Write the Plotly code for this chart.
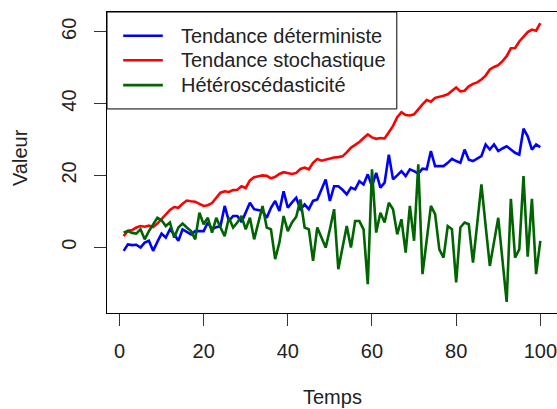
import plotly.graph_objects as go

temps = list(range(1, 101))

tendance_deterministe = [
    -1.0, 0.8, 0.6, 0.7, -0.1, 1.3, 1.8, -1.0, 1.5, 3.8,
    2.7, 5.0, 3.6, 1.8, 5.0, 4.2, 3.6, 4.5, 4.4, 4.5,
    6.9, 5.0, 5.6, 5.9, 11.5, 7.3, 8.7, 8.7, 7.0, 9.5,
    12.4, 10.6, 10.4, 10.1, 8.2, 11.0, 12.9, 10.1, 15.6, 11.0,
    12.5, 13.8, 10.6, 11.9, 10.6, 12.9, 13.3, 16.0, 18.9, 12.9,
    17.0, 17.0, 16.0, 14.7, 16.6, 16.1, 18.4, 17.5, 20.3, 17.0,
    20.7, 16.6, 18.0, 25.8, 18.9, 20.0, 21.2, 19.8, 21.7, 21.2,
    20.5, 21.9, 21.7, 26.8, 22.6, 22.6, 22.6, 23.5, 24.6, 24.0,
    23.5, 27.2, 24.4, 24.0, 24.6, 25.4, 28.6, 27.2, 28.6, 26.8,
    27.5, 28.1, 27.2, 26.3, 25.8, 33.0, 30.9, 27.2, 28.6, 27.9,
]

tendance_stochastique = [
    3.1, 4.6, 4.8, 5.5, 5.9, 5.7, 6.0, 5.6, 6.6, 7.8,
    9.0, 10.4, 11.2, 11.0, 12.1, 13.0, 12.8, 12.7, 12.1, 11.5,
    11.7, 12.3, 13.8, 15.2, 15.6, 15.4, 15.9, 16.0, 17.0, 16.5,
    18.6, 19.5, 19.8, 20.0, 19.9, 19.2, 19.6, 20.4, 20.9, 20.6,
    20.4, 20.7, 21.8, 22.2, 21.7, 23.5, 24.6, 24.1, 24.4, 24.9,
    25.0, 25.1, 25.3, 26.4, 27.7, 28.5, 29.3, 30.4, 31.4, 30.6,
    30.2, 30.4, 30.3, 32.0, 33.8, 36.2, 37.6, 36.8, 36.7, 37.0,
    38.5, 39.8, 41.0, 40.5, 41.6, 41.8, 42.2, 42.6, 43.5, 44.5,
    43.4, 43.6, 44.8, 45.5, 45.9, 46.7, 47.8, 49.5, 50.2, 50.7,
    51.8, 53.2, 55.4, 55.5, 57.3, 58.6, 59.9, 60.6, 60.3, 62.4,
]

heteroscedasticite = [
    4.1, 4.5, 4.0, 3.8, 5.0, 2.2, 4.5, 6.5, 8.2, 7.5,
    5.9, 6.9, 2.7, 5.5, 6.6, 5.5, 4.5, 2.2, 9.6, 6.4,
    8.2, 4.1, 8.2, 5.5, 3.1, 8.2, 5.5, 6.9, 8.7, 5.0,
    8.2, 2.2, 7.0, 11.5, 5.5, 5.0, -3.3, 1.3, 8.7, 4.5,
    6.9, 8.5, 13.3, 5.5, 5.0, -3.8, 5.5, 2.5, -0.1, 5.0,
    10.6, -6.1, 0.0, 5.9, -0.1, 7.3, 7.3, 5.0, -10.3, 21.7,
    4.1, 9.6, 6.9, 12.4, 10.6, 3.6, 7.8, -1.5, 11.5, 1.8,
    23.1, -7.5, 2.0, 11.5, 9.2, -0.6, -2.9, 5.9, 5.0, -9.8,
    5.5, 6.9, 6.4, -4.3, 6.5, 17.5, 6.0, -5.2, 1.5, 8.2,
    -3.5, -15.2, 13.5, -2.9, -0.6, 19.8, -2.6, 13.5, -7.5, 1.8,
]

series_names = ["Tendance déterministe", "Tendance stochastique", "Hétéroscédasticité"]
series_colors = ["#0000FF", "#FF0000", "#006400"]
x_ticks = [0, 20, 40, 60, 80, 100]
y_ticks = [0, 20, 40, 60]

FONT = "Liberation Sans, Arial, Helvetica, sans-serif"
FS = 20
TXT = "#222222"

fig = go.Figure()
for name, vals, col in zip(series_names,
                           [tendance_deterministe, tendance_stochastique, heteroscedasticite],
                           series_colors):
    fig.add_trace(go.Scatter(x=temps, y=vals, mode="lines", name=name,
                             line=dict(color=col, width=2.6), showlegend=False))

# R-style extended ranges (4% on each side)
xmin, xmax = min(temps), max(temps)
allv = tendance_deterministe + tendance_stochastique + heteroscedasticite
ymin, ymax = min(allv), max(allv)
xr = [xmin - 0.04 * (xmax - xmin), xmax + 0.04 * (xmax - xmin)]
yr = [ymin - 0.04 * (ymax - ymin), ymax + 0.04 * (ymax - ymin)]

axis_common = dict(showgrid=False, zeroline=False, showline=True, linecolor="black",
                   linewidth=1, mirror=True, ticks="outside", ticklen=12, tickwidth=1,
                   tickcolor="#333333", tickfont=dict(family=FONT, size=FS, color=TXT),
                   ticklabeloverflow="allow")

fig.update_xaxes(range=xr, tickvals=x_ticks, ticktext=[str(v) for v in x_ticks],
                 ticklabelstandoff=8, **axis_common)
fig.update_yaxes(range=yr, tickvals=y_ticks, ticktext=[str(v) for v in y_ticks],
                 tickangle=-90, ticklabelstandoff=10, **axis_common)

# Legend (R style box)
lx1 = 0.644
ly0 = 0.678
fig.add_shape(type="rect", xref="paper", yref="paper", x0=0, x1=lx1, y0=ly0, y1=1,
              line=dict(color="black", width=1), fillcolor="white", layer="above")
rows_y = [0.921, 0.8395, 0.757]
for name, col, ry in zip(series_names, series_colors, rows_y):
    fig.add_shape(type="line", xref="paper", yref="paper", x0=0.036, x1=0.124, y0=ry, y1=ry,
                  line=dict(color=col, width=2.6), layer="above")
    fig.add_annotation(xref="paper", yref="paper", x=0.161, y=ry, text=name, showarrow=False,
                       xanchor="left", yanchor="middle",
                       font=dict(family=FONT, size=FS, color=TXT))

# Axis titles
fig.add_annotation(xref="paper", yref="paper", x=0.5, y=0, yshift=-84, text="Temps",
                   showarrow=False, xanchor="center", yanchor="middle",
                   font=dict(family=FONT, size=FS, color=TXT))
fig.add_annotation(xref="paper", yref="paper", x=0, y=0.515, xshift=-87, text="Valeur",
                   showarrow=False, xanchor="center", yanchor="middle", textangle=-90,
                   font=dict(family=FONT, size=FS, color=TXT))

fig.update_layout(width=557, height=409, margin=dict(l=107, r=0, t=12, b=96),
                  paper_bgcolor="white", plot_bgcolor="white", showlegend=False)

fig.write_html("out.html")
